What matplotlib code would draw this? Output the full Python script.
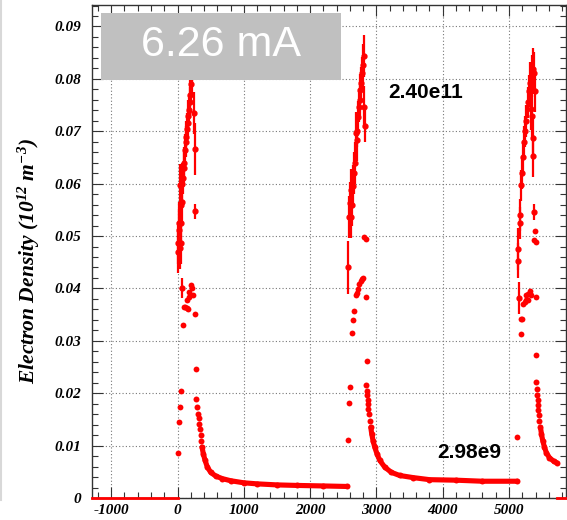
import matplotlib
matplotlib.use("Agg")
import matplotlib.pyplot as plt
from matplotlib.ticker import MultipleLocator, FixedLocator
from matplotlib.patches import Rectangle
from matplotlib.lines import Line2D

plt.rcParams['mathtext.fontset'] = 'custom'
plt.rcParams['mathtext.rm'] = 'Liberation Serif:italic:bold'
plt.rcParams['mathtext.it'] = 'Liberation Serif:italic:bold'
plt.rcParams['mathtext.bf'] = 'Liberation Serif:italic:bold'

# ---------------- data (time, density in 1e12 m^-3) ----------------
# cycle 1 points with error bars (build-up)
c1_t = [0, 8, 15, 22, 30, 38, 45, 52, 60, 65, 68, 75, 85, 95, 105, 115, 125, 135, 145, 155,
        165, 175, 185, 195, 205, 215, 225, 235, 250, 258, 270]
c1_y = [0.0487, 0.0470, 0.0512, 0.0525, 0.0478, 0.0598, 0.0560, 0.0525, 0.0487, 0.0400, 0.0600,
        0.0565, 0.0610, 0.0630, 0.0640, 0.0665, 0.0680, 0.0690, 0.0705, 0.0715, 0.0730, 0.0740,
        0.0755, 0.0770, 0.0790, 0.0805, 0.0830, 0.0850, 0.0735, 0.0666, 0.0547]
c1_e = [0.004, 0.004, 0.004, 0.004, 0.004, 0.004, 0.004, 0.004, 0.004, 0.0019, 0.004,
        0.004, 0.003, 0.003, 0.003, 0.003, 0.003, 0.003, 0.003, 0.003, 0.003, 0.003,
        0.003, 0.003, 0.004, 0.004, 0.004, 0.004, 0.004, 0.005, 0.0015]
# cycle 1 low points
c1_lo_t = [0, 15, 35, 45, 85, 95, 120, 140, 160, 140, 170, 180, 205, 220, 235, 270, 280]
c1_lo_y = [0.0086, 0.0145, 0.0174, 0.0205, 0.0331, 0.0364, 0.0364, 0.0363, 0.0360, 0.0378,
           0.0383, 0.0394, 0.0407, 0.0401, 0.0388, 0.0351, 0.0246]
# cycle 1 decay
c1_d_t = [285, 300, 310, 320, 330, 340, 350, 360, 370, 390, 415, 450, 500, 575, 675, 800,
          1000, 1200, 1500, 1800, 2200, 2560]
c1_d_y = [0.0189, 0.0173, 0.0161, 0.0152, 0.0142, 0.0132, 0.0120, 0.0109, 0.0097, 0.0084,
          0.0072, 0.0059, 0.0049, 0.0042, 0.0037, 0.0033, 0.0029, 0.0027, 0.0025, 0.0024,
          0.0023, 0.0022]

# cycle 2
c2_t = [2570, 2585, 2600, 2610, 2620, 2635, 2650, 2660, 2670, 2685, 2700, 2710, 2720, 2735,
        2750, 2760, 2770, 2785, 2800, 2810, 2820, 2835]
c2_y = [0.0440, 0.0537, 0.0563, 0.0588, 0.0537, 0.0560, 0.0595, 0.0620, 0.0640, 0.0697,
        0.0683, 0.0700, 0.0728, 0.0747, 0.0760, 0.0779, 0.0792, 0.0811, 0.0827, 0.0843,
        0.0747, 0.0710]
c2_e = [0.005, 0.004, 0.004, 0.004, 0.004, 0.004, 0.004, 0.004, 0.004, 0.004, 0.004, 0.003,
        0.003, 0.003, 0.003, 0.003, 0.003, 0.003, 0.004, 0.004, 0.004, 0.003]
c2_lo_t = [2570, 2585, 2600, 2630, 2645, 2665, 2690, 2710, 2725, 2745, 2765, 2790, 2805,
           2820, 2840, 2845, 2855]
c2_lo_y = [0.0111, 0.0181, 0.0211, 0.0315, 0.0339, 0.0356, 0.0388, 0.0391, 0.0398, 0.0408,
           0.0415, 0.0418, 0.0419, 0.0499, 0.0494, 0.0384, 0.0261]
c2_d_t = [2850, 2860, 2865, 2870, 2875, 2880, 2890, 2900, 2915, 2930, 2950, 2975, 3010, 3050,
          3125, 3225, 3350, 3550, 3800, 4200, 4600, 5125]
c2_d_y = [0.0216, 0.0204, 0.0196, 0.0187, 0.0179, 0.0170, 0.0160, 0.0147, 0.0135, 0.0122,
          0.0109, 0.0097, 0.0084, 0.0072, 0.0059, 0.0049, 0.0043, 0.0039, 0.0035, 0.0034,
          0.0032, 0.0032]

# cycle 3
c3_t = [5130, 5135, 5150, 5160, 5170, 5185, 5200, 5210, 5230, 5245, 5260, 5280, 5295, 5320,
        5345, 5360, 5380, 5395, 5330, 5340, 5355, 5360, 5370]
c3_y = [0.0453, 0.0475, 0.0382, 0.0525, 0.0540, 0.0597, 0.0620, 0.0650, 0.0680, 0.0700,
        0.0720, 0.0755, 0.0777, 0.0793, 0.0806, 0.0818, 0.0812, 0.0777, 0.0743, 0.0730,
        0.0687, 0.0652, 0.0546]
c3_e = [0.0033, 0.004, 0.003, 0.003, 0.003, 0.003, 0.003, 0.003, 0.003, 0.003, 0.003, 0.003,
        0.003, 0.004, 0.004, 0.004, 0.004, 0.004, 0.004, 0.004, 0.004, 0.004, 0.0015]
c3_lo_t = [5125, 5175, 5185, 5200, 5215, 5235, 5250, 5260, 5285, 5285, 5310, 5325, 5400,
           5390, 5380, 5410, 5410]
c3_lo_y = [0.0116, 0.0313, 0.0341, 0.0341, 0.0370, 0.0375, 0.0387, 0.0377, 0.0377, 0.0390,
           0.0396, 0.0387, 0.0383, 0.0510, 0.0493, 0.0488, 0.0272]
c3_d_t = [5415, 5425, 5430, 5435, 5440, 5445, 5450, 5460, 5475, 5490, 5510, 5535, 5565,
          5610, 5675, 5725]
c3_d_y = [0.0222, 0.0208, 0.0197, 0.0187, 0.0178, 0.0168, 0.0159, 0.0147, 0.0135, 0.0122,
          0.0109, 0.0097, 0.0086, 0.0077, 0.0070, 0.0067]

# empty (zero) regions
z1_t = [-1290, 0]
z2_t = [5730, 5860]
zero_y = [0, 0]

xticks = [-1000, 0, 1000, 2000, 3000, 4000, 5000]
yticks = [0, 0.01, 0.02, 0.03, 0.04, 0.05, 0.06, 0.07, 0.08, 0.09]
ytick_labels = ['0', '0.01', '0.02', '0.03', '0.04', '0.05', '0.06', '0.07', '0.08', '0.09']

# ---------------- figure ----------------
W, H = 567, 520
fig = plt.figure(figsize=(W / 100, H / 100), dpi=100)
ax = fig.add_axes([92 / W, 1 - 498 / H, (566 - 92) / W, (498 - 5) / H])

red = '#ff0000'
for t, y, e in [(c1_t, c1_y, c1_e), (c2_t, c2_y, c2_e), (c3_t, c3_y, c3_e)]:
    ax.errorbar(t, y, yerr=e, fmt='o', color=red, ms=3.5, elinewidth=1.6, capsize=0,
                zorder=3)
for t, y in [(c1_lo_t, c1_lo_y), (c2_lo_t, c2_lo_y), (c3_lo_t, c3_lo_y)]:
    ax.plot(t, y, 'o', color=red, ms=4.2, mec='none', zorder=3)
for t, y in [(c1_d_t, c1_d_y), (c2_d_t, c2_d_y), (c3_d_t, c3_d_y)]:
    ax.plot(t, y, 'o', color=red, ms=4.3, mec='none', zorder=3)
    ax.plot(t[8:], y[8:], '-', color=red, lw=3.7, solid_capstyle='round', zorder=3)
for t in [z1_t, z2_t]:
    ax.plot(t, zero_y, '-', color=red, lw=2.0, zorder=3, clip_on=False)

ax.set_xlim(-1290, 5860)
ax.set_ylim(0, 0.0941)

ax.xaxis.set_major_locator(FixedLocator(xticks))
ax.xaxis.set_minor_locator(MultipleLocator(200))
ax.yaxis.set_major_locator(FixedLocator(yticks))
ax.yaxis.set_minor_locator(MultipleLocator(0.002))
ax.set_yticklabels(ytick_labels)
ax.set_xticklabels([str(v) for v in xticks])

for lab in ax.get_xticklabels() + ax.get_yticklabels():
    lab.set_fontfamily('Liberation Serif')
    lab.set_fontweight('bold')
    lab.set_fontstyle('italic')
    lab.set_fontsize(11)

ax.tick_params(which='major', direction='in', top=True, right=True, length=8, width=0.8,
               color='#333333')
ax.tick_params(which='minor', direction='in', top=True, right=True, length=4, width=0.8,
               color='#333333')
ax.tick_params(axis='y', which='major', pad=8)
ax.tick_params(axis='x', which='major', pad=4)

ax.grid(True, which='major', color='#777777', linestyle=(0, (1, 2)), linewidth=0.8)
ax.set_axisbelow(True)
for s in ax.spines.values():
    s.set_color('#333333')
    s.set_linewidth(1.0)

ax.set_ylabel(r'Electron Density (10$^{12}$ m$^{-3}$)', fontfamily='Liberation Serif',
              fontweight='bold', fontstyle='italic', fontsize=15.5)
ax.yaxis.set_label_coords(-0.105, 0.48)

# title box
ax.add_patch(Rectangle((101 / W, 1 - 80 / H), (341 - 101) / W, (80 - 13) / H,
                       transform=fig.transFigure, facecolor='#c0c0c0', edgecolor='none',
                       zorder=10, clip_on=False))
fig.text(221 / W, 1 - 45 / H, '6.26 mA', color='white', fontfamily='Liberation Sans',
         fontsize=31, ha='center', va='center', zorder=11)

fig.text(426 / W, 1 - 93 / H, '2.40e11', color='black', fontfamily='Liberation Sans',
         fontweight='bold', fontsize=15, ha='center', va='center')
fig.text(469.5 / W, 1 - 452 / H, '2.98e9', color='black', fontfamily='Liberation Sans',
         fontweight='bold', fontsize=15, ha='center', va='center')

fig.add_artist(Line2D([1 / W, 1 / W], [1 - 0 / H, 1 - 500 / H], transform=fig.transFigure,
                      color='#d8d8d8', lw=1.5))

fig.savefig('out.png', dpi=100)
